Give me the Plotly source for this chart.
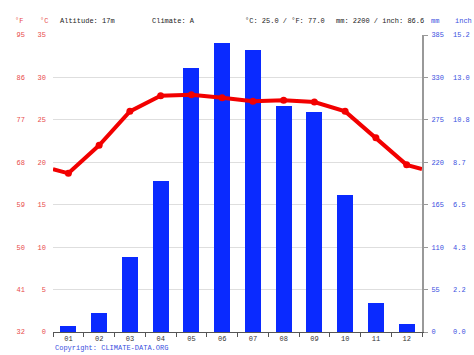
import plotly.graph_objects as go

months = ["01", "02", "03", "04", "05", "06", "07", "08", "09", "10", "11", "12"]
month_pos = [1, 2, 3, 4, 5, 6, 7, 8, 9, 10, 11, 12]
precip_mm = [8, 24, 97, 196, 342, 374, 366, 293, 285, 178, 37, 11]
temp_c = [18.7, 22.0, 26.0, 27.85, 27.97, 27.6, 27.2, 27.3, 27.1, 26.0, 22.9, 19.7]
temp_edge_c = 19.2  # value between Dec and Jan, drawn at both plot edges

c_ticks = [0, 5, 10, 15, 20, 25, 30, 35]
f_ticks = [32, 41, 50, 59, 68, 77, 86, 95]
mm_ticks = [0, 55, 110, 165, 220, 275, 330, 385]
inch_labels = ["0.0", "2.2", "4.3", "6.5", "8.7", "10.8", "13.0", "15.2"]

header = [
    ("°F", 13, "#e84a4a"), ("°C", 38, "#e84a4a"), ("Altitude: 17m", 58, "#222"),
    ("Climate: A", 150, "#222"), ("°C: 25.0 / °F: 77.0", 243, "#222"),
    ("mm: 2200 / inch: 86.6", 334, "#222"), ("mm", 429, "#3a4fe0"), ("inch", 453, "#3a4fe0"),
]

FONT = "Liberation Mono"
RED = "#e84a4a"
BLUE = "#3a4fe0"
L, R, T, B = 53, 52, 35, 23
W, H = 474, 355
PW, PH = W - L - R, H - T - B

fig = go.Figure()
fig.add_trace(go.Bar(x=month_pos, y=precip_mm, width=0.52, marker_color="#0a2aff",
                     marker_line_width=0, yaxis="y", hoverinfo="skip"))
fig.add_trace(go.Scatter(x=[0.5] + month_pos + [12.5], y=[temp_edge_c] + temp_c + [temp_edge_c],
                         mode="lines", line=dict(color="#f20000", width=4), yaxis="y2",
                         hoverinfo="skip"))
fig.add_trace(go.Scatter(x=month_pos, y=temp_c, mode="markers",
                         marker=dict(color="#f20000", size=7), yaxis="y2", hoverinfo="skip"))
# empty traces so the °F and inch axes are drawn
fig.add_trace(go.Scatter(x=[None], y=[None], yaxis="y3", hoverinfo="skip"))
fig.add_trace(go.Scatter(x=[None], y=[None], yaxis="y4", hoverinfo="skip"))

tf = dict(family=FONT, size=7)
fig.update_layout(
    width=W, height=H, margin=dict(l=L, r=R, t=T, b=B, autoexpand=False),
    paper_bgcolor="white", plot_bgcolor="white", showlegend=False, bargap=0,
    xaxis=dict(range=[0.5, 12.5], tickvals=month_pos, ticktext=months, ticks="",
               showline=True, linecolor="#555", linewidth=1, showgrid=False, zeroline=False,
               tickfont=dict(tf, color="#333"), automargin=False,
               minor=dict(tickvals=[m - 0.5 for m in month_pos] + [12.5], ticks="outside",
                          ticklen=4, tickcolor="#555", showgrid=False)),
    yaxis=dict(side="right", range=[0, 385], tickvals=mm_ticks, showgrid=True,
               gridcolor="#dedede", gridwidth=1, showline=True, linecolor="#999", linewidth=2,
               ticks="outside", ticklen=4, tickcolor="#999", zeroline=False, automargin=False,
               tickfont=dict(tf, color=BLUE), ticklabelstandoff=2),
    yaxis2=dict(overlaying="y", side="left", range=[0, 35], tickvals=c_ticks, showgrid=False,
                zeroline=False, ticks="", tickfont=dict(tf, color=RED), ticklabelstandoff=6,
                automargin=False),
    yaxis3=dict(overlaying="y", side="left", anchor="free", position=0, range=[32, 95],
                tickvals=f_ticks, showgrid=False, zeroline=False, ticks="", automargin=False,
                tickfont=dict(tf, color=RED), ticklabelstandoff=28),
    yaxis4=dict(overlaying="y", side="right", anchor="free", position=1, range=[0, 385],
                tickvals=mm_ticks, ticktext=inch_labels, showgrid=False, zeroline=False,
                ticks="", tickfont=dict(tf, color=BLUE), ticklabelstandoff=30, automargin=False),
)

for text, px, col in header:
    fig.add_annotation(text=text, xref="paper", yref="paper", x=(px - L) / PW,
                       y=1 + (T - 20.7) / PH, xanchor="left", yanchor="middle", showarrow=False,
                       font=dict(family=FONT, size=7, color=col))
fig.add_annotation(text="Copyright: CLIMATE-DATA.ORG", xref="paper", yref="paper", x=0,
                   y=-(348 - (H - B)) / PH, xanchor="left", yanchor="middle", showarrow=False,
                   font=dict(family=FONT, size=7, color=BLUE))

fig.write_html("out.html", config={"displayModeBar": False},
               post_script="document.body.style.margin='0';")
